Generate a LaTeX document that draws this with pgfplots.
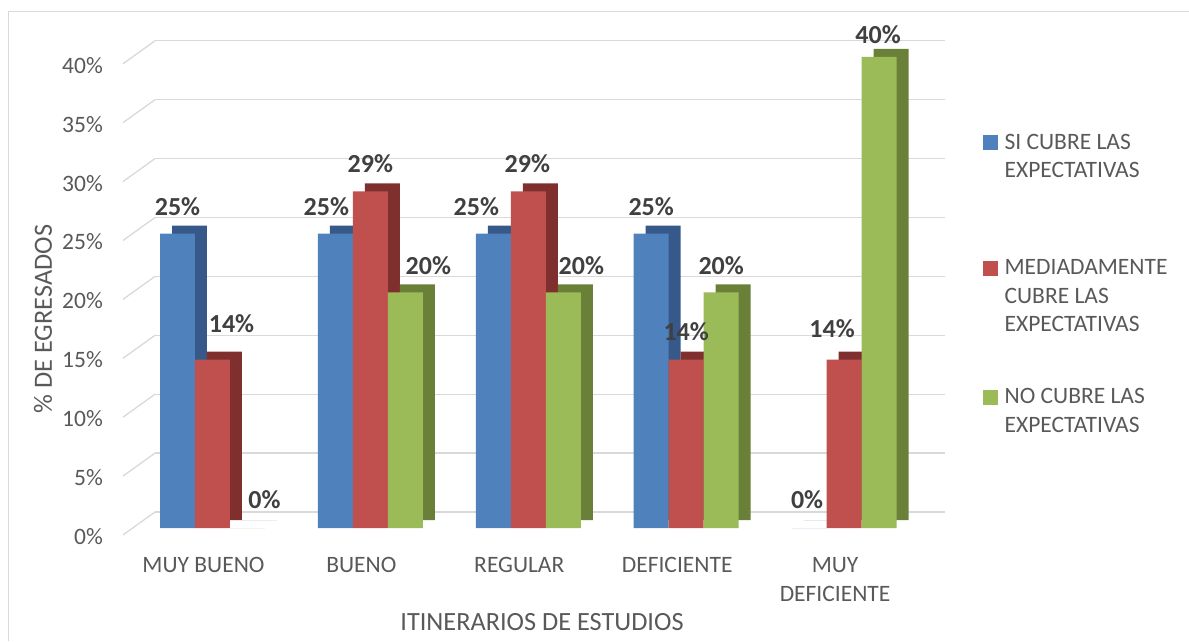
\documentclass[border=0pt]{standalone}
\usepackage{pgfplots}
\pgfplotsset{compat=1.18}
\usepackage{pgfplotstable}
\usepackage{fontspec}
\setmainfont{Carlito}

\definecolor{cblue}{HTML}{4F81BD}
\definecolor{cblued}{HTML}{36598A}
\definecolor{cred}{HTML}{C0504D}
\definecolor{credd}{HTML}{7E2F2E}
\definecolor{cgreen}{HTML}{9BBB59}
\definecolor{cgreend}{HTML}{6A7F38}
\definecolor{cgrid}{HTML}{D9D9D9}
\definecolor{ctext}{HTML}{595959}
\definecolor{clab}{HTML}{404040}

% x = category, y = percent, dx/dy = label offset in px
\pgfplotstableread{
x y dx dy
0 25 0 0
1 25 -9 0
2 25 -17 0
3 25 0 0
4 0 -2 2
}\tblue
\pgfplotstableread{
x y dx dy
0 14.29 19 9
1 28.57 0 1
2 28.57 -1 1
3 14.29 0 1
4 14.29 -12 4
}\tred
\pgfplotstableread{
x y dx dy
0 0 17 2
1 20 23 0
2 20 18 0
3 20 0 0
4 40 -1 -4
}\tgreen

\begin{document}
\begin{tikzpicture}
\useasboundingbox (0pt,0pt) rectangle (1189pt,641pt);
\draw[cgrid, line width=1pt] (8.5pt,0pt) -- (8.5pt,629pt) -- (1189pt,629pt);
\begin{axis}[
    at={(155pt,113pt)}, anchor=south west,
    scale only axis, width=790pt, height=471.2pt,
    xmin=-0.364, xmax=4.639, ymin=0, ymax=40,
    clip=false,
    axis line style={draw=none}, tick style={draw=none},
    ytick={0,5,...,40},
    yticklabels={0\%,5\%,10\%,15\%,20\%,25\%,30\%,35\%,40\%},
    xtick={0,1,2,3,4},
    xticklabels={MUY BUENO,BUENO,REGULAR,DEFICIENTE,{MUY\\DEFICIENTE}},
    ymajorgrids,
    major grid style={draw=cgrid, line width=1.3pt, yshift=16pt},
    ticklabel style={font=\fontsize{23.5}{28.5}\selectfont, text=ctext, inner sep=0pt},
    yticklabel style={anchor=east, xshift=-52pt, yshift=-8.5pt},
    xticklabel style={anchor=north, align=center, xshift=-9pt, yshift=-29.5pt},
    xlabel={ITINERARIOS DE ESTUDIOS},
    ylabel={\% DE EGRESADOS},
    label style={font=\fontsize{26.3}{30}\selectfont, text=ctext},
    xlabel style={at={(axis description cs:0.4899,-0.1995)}, anchor=center},
    ylabel style={at={(axis description cs:-0.1418,0.4435)}, anchor=center},
    /pgf/number format/assume math mode=true,
    legend style={at={(axis description cs:1.0481,0.8372)}, anchor=north west,
        draw=none, fill=none, inner sep=0pt, row sep=55pt, column sep=7pt,
        font=\fontsize{23.5}{28.5}\selectfont, text=ctext,
        nodes={anchor=north west, align=left, inner sep=0pt}},
    legend cell align=left,
    bar width=0.2215,
    every node near coord/.append style={font=\bfseries\fontsize{26}{30}\selectfont,
        text=clab, anchor=base, inner sep=0pt},
]

% left ends of the grid (perspective stubs)
\addplot[cgrid, line width=1.3pt, forget plot, unbounded coords=jump] coordinates {
(-0.567,-0.594) (-0.364,1.358) (nan,nan)
(-0.567,4.406) (-0.364,6.358) (nan,nan)
(-0.567,9.406) (-0.364,11.358) (nan,nan)
(-0.567,14.406) (-0.364,16.358) (nan,nan)
(-0.567,19.406) (-0.364,21.358) (nan,nan)
(-0.567,24.406) (-0.364,26.358) (nan,nan)
(-0.567,29.406) (-0.364,31.358) (nan,nan)
(-0.567,34.406) (-0.364,36.358) (nan,nan)
(-0.567,39.406) (-0.364,41.358)
};

% depth faces
\addplot[ybar, bar shift=-0.1455, fill=cblued, draw=none, yshift=8pt, forget plot] table[x=x,y=y] {\tblue};
\addplot[ybar, bar shift=0.076, fill=credd, draw=none, yshift=8pt, forget plot] table[x=x,y=y] {\tred};
\addplot[ybar, bar shift=0.2975, fill=cgreend, draw=none, yshift=8pt, forget plot] table[x=x,y=y] {\tgreen};

% front faces
\addplot[ybar, bar shift=-0.2215, fill=cblue, draw=none, forget plot,
    visualization depends on=\thisrow{dx} \as \ldx,
    visualization depends on=\thisrow{dy} \as \ldy,
    nodes near coords={\pgfmathprintnumber[fixed,precision=0]{\pgfplotspointmeta}\%},
    nodes near coords style={xshift=\ldx pt-35pt, yshift=\ldy pt+17.8pt}]
    table[x=x,y=y] {\tblue};
\addplot[ybar, bar shift=0, fill=cred, draw=none, forget plot,
    visualization depends on=\thisrow{dx} \as \ldx,
    visualization depends on=\thisrow{dy} \as \ldy,
    nodes near coords={\pgfmathprintnumber[fixed,precision=0]{\pgfplotspointmeta}\%},
    nodes near coords style={xshift=\ldx pt, yshift=\ldy pt+17.8pt}]
    table[x=x,y=y] {\tred};
\addplot[ybar, bar shift=0.2215, fill=cgreen, draw=none, forget plot,
    visualization depends on=\thisrow{dx} \as \ldx,
    visualization depends on=\thisrow{dy} \as \ldy,
    nodes near coords={\pgfmathprintnumber[fixed,precision=0]{\pgfplotspointmeta}\%},
    nodes near coords style={xshift=\ldx pt+35pt, yshift=\ldy pt+17.8pt}]
    table[x=x,y=y] {\tgreen};

\addlegendimage{legend image code/.code={\fill[cblue] (0pt,-15.5pt) rectangle (14pt,-1.5pt);}}
\addlegendentry{SI CUBRE LAS\\EXPECTATIVAS\\[-3pt]\mbox{}}
\addlegendimage{legend image code/.code={\fill[cred] (0pt,-15.5pt) rectangle (14pt,-1.5pt);}}
\addlegendentry{MEDIADAMENTE\\CUBRE LAS\\EXPECTATIVAS}
\addlegendimage{legend image code/.code={\fill[cgreen] (0pt,-15.5pt) rectangle (14pt,-1.5pt);}}
\addlegendentry{NO CUBRE LAS\\EXPECTATIVAS}
\end{axis}
\end{tikzpicture}
\end{document}
